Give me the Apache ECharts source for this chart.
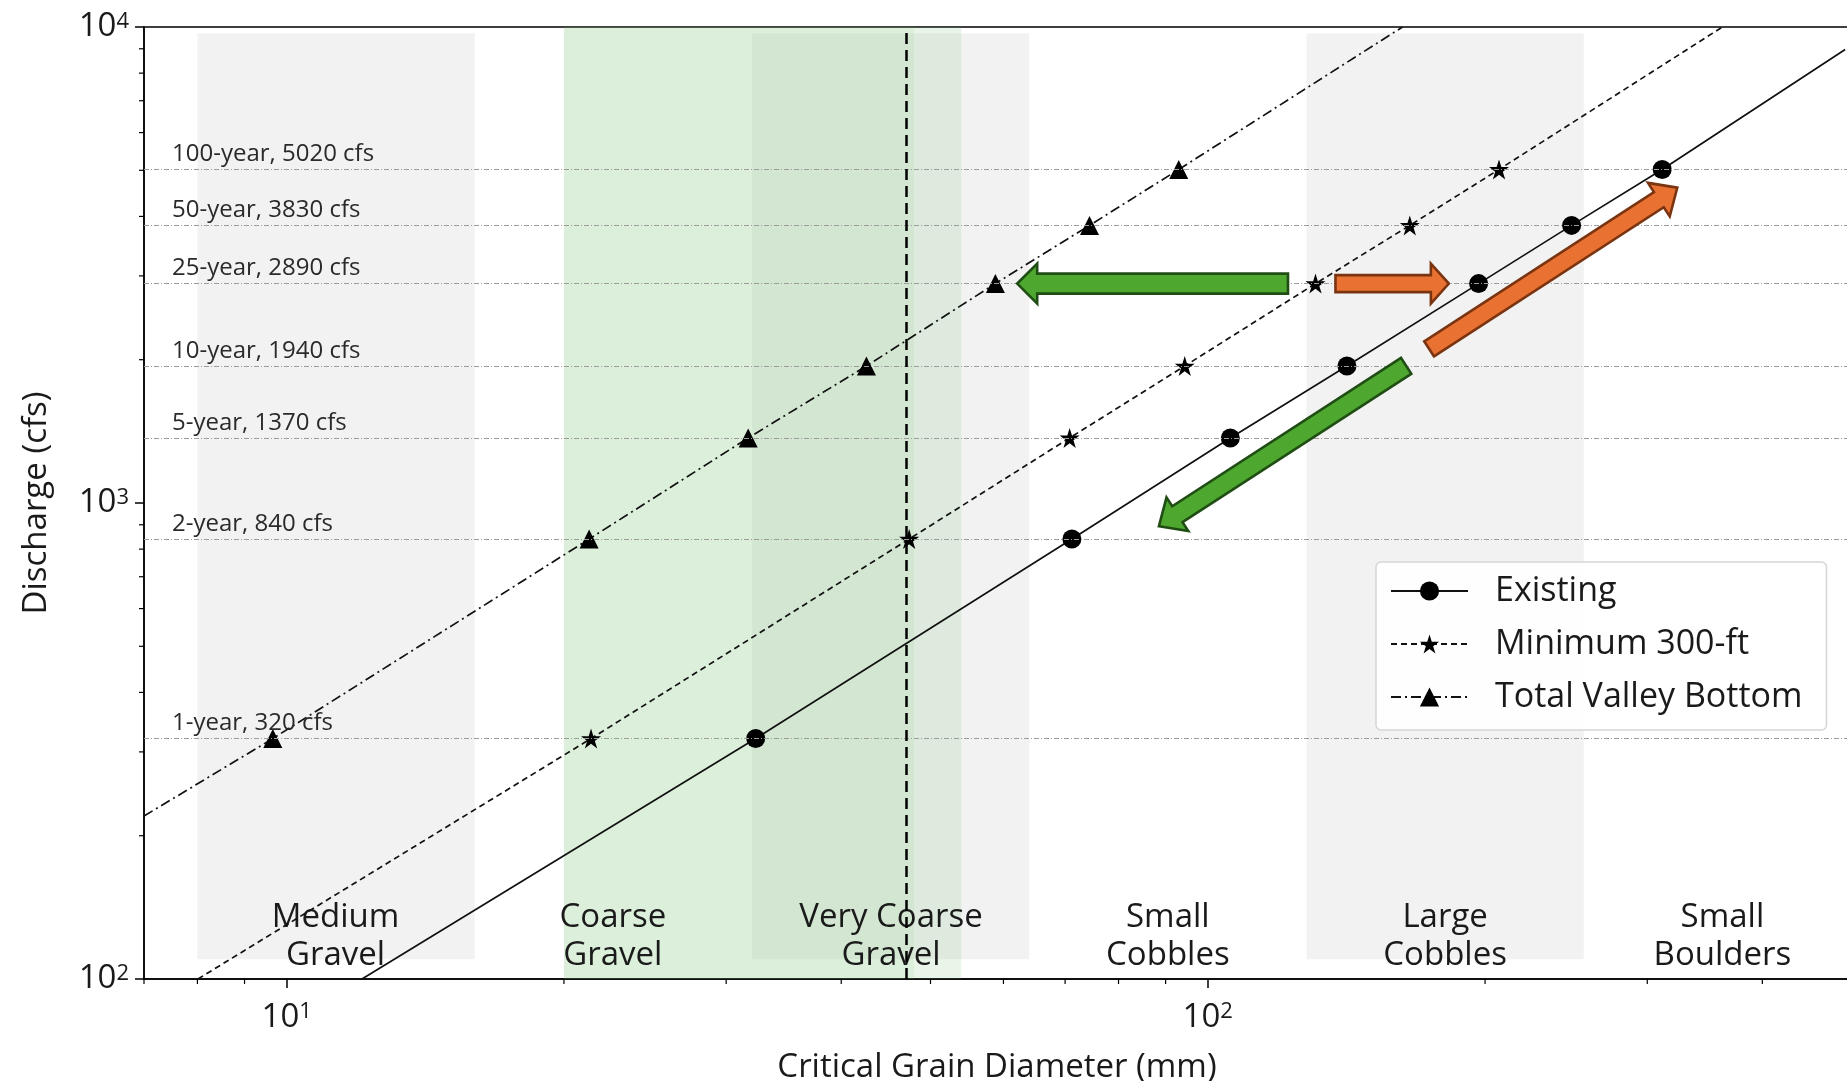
<!DOCTYPE html>
<html>
<head>
<meta charset="utf-8">
<script src="https://cdn.jsdelivr.net/npm/echarts@6/dist/echarts.min.js"></script>
<style>
html, body { margin: 0; padding: 0; background: #fff; }
#main { width: 1847px; height: 1081px; }
</style>
</head>
<body>
<div id="main"></div>
<script>
var dom = document.getElementById('main');
var myChart = echarts.init(dom);

var FONT = 'Open Sans';
var TXT = '#1a1a1a';

// flood events and their discharge (cfs)
var events = ['1-year', '2-year', '5-year', '10-year', '25-year', '50-year', '100-year'];
var discharge = [320, 840, 1370, 1940, 2890, 3830, 5020];

// critical grain diameter (mm) for each event
var existing = [32.3, 71.2, 105.8, 141.6, 196.8, 248.3, 311.4];
var minimum300 = [21.4, 47.4, 70.8, 94.4, 130.9, 165.7, 207.1];
var valleyBottom = [9.66, 21.3, 31.7, 42.6, 58.8, 74.4, 93.0];

// where the fitted lines leave the plot [mm, cfs]
var existingEnds = [[12.07, 100], [492, 8970]];
var minimumEnds = [[8.01, 100], [362, 10000]];
var valleyEnds = [[7.0, 220], [162.7, 10000]];

// grain size classes
var classNames = ['Medium\nGravel', 'Coarse\nGravel', 'Very Coarse\nGravel', 'Small\nCobbles', 'Large\nCobbles', 'Small\nBoulders'];
var classMid = [11.3, 22.6, 45.3, 90.5, 181, 362];
var grayBands = [[8, 16], [32, 64], [128, 256]];
var greenBands = [[20, 48, 0.24], [48, 54, 0.15]];
var designLine = 47;

// annotation arrows [from, to] in [mm, cfs]
var arrows = [
    { from: [122.2, 2890], to: [62.1, 2890], c: 'g', w: 10, hw: 20, hl: 20 },
    { from: [137.6, 2890], to: [182.7, 2890], c: 'o', w: 8.5, hw: 20, hl: 18 },
    { from: [173.9, 2108], to: [323.4, 4597], c: 'o', w: 9, hw: 20, hl: 22 },
    { from: [164.2, 1942], to: [88.5, 894], c: 'g', w: 9.5, hw: 20, hl: 22 }
];

var xMinor = [7, 8, 9, 20, 30, 40, 50, 60, 70, 80, 90, 200, 300, 400];
var yMinor = [200, 300, 400, 500, 600, 700, 800, 900, 2000, 3000, 4000, 5000, 6000, 7000, 8000, 9000];

var starPath = 'path://M50,0L61.2,34.6L97.6,34.5L68.1,55.9L79.4,90.5L50,69L20.6,90.5L31.9,55.9L2.4,34.5L38.8,34.6Z';

function buildLine(ds, ends) {
    var pts = [{ value: ends[0], symbol: 'none' }];
    for (var i = 0; i < ds.length; i++) {
        pts.push([ds[i], discharge[i]]);
    }
    pts.push({ value: ends[1], symbol: 'none' });
    return pts;
}

function powLabel(v) {
    var n = Math.round(Math.log(v) / Math.LN10);
    return '{b|10}{s|' + n + '}';
}
var powRich = {
    b: { fontSize: 33, fontFamily: FONT, color: TXT },
    s: { fontSize: 22, fontFamily: FONT, color: TXT, verticalAlign: 'top' }
};

var bandAreas = [];
grayBands.forEach(function (b) {
    bandAreas.push([{ xAxis: b[0], yAxis: 9700, itemStyle: { color: 'rgba(0,0,0,0.05)' } },
                    { xAxis: b[1], yAxis: 110 }]);
});
greenBands.forEach(function (b) {
    bandAreas.push([{ xAxis: b[0], yAxis: 10000, itemStyle: { color: 'rgba(110,190,100,' + b[2] + ')' } },
                    { xAxis: b[1], yAxis: 100 }]);
});

var levelLines = discharge.map(function (q, i) {
    return { yAxis: q, label: { formatter: events[i] + ', ' + q + ' cfs' } };
});
levelLines.push({
    xAxis: designLine,
    lineStyle: { color: '#000', width: 2.5, type: [11, 6] },
    label: { show: false }
});

var option = {
    animation: false,
    grid: {
        left: 144, right: -3, top: 27, bottom: 102,
        outerBoundsMode: 'none', containLabel: false,
        show: true, borderColor: '#000', borderWidth: 1.5
    },
    xAxis: {
        type: 'log', logBase: 10, min: 7, max: 498,
        name: 'Critical Grain Diameter (mm)', nameLocation: 'middle', nameGap: 72,
        nameTextStyle: { fontSize: 33, fontFamily: FONT, color: TXT },
        axisLine: { show: true, lineStyle: { color: '#000', width: 1.5 } },
        axisTick: { show: true, length: 9, lineStyle: { color: '#000', width: 1.5 } },
        axisLabel: { formatter: powLabel, rich: powRich, margin: 22, showMinLabel: false, showMaxLabel: false },
        splitLine: { show: false }
    },
    yAxis: {
        type: 'log', logBase: 10, min: 100, max: 10000,
        name: 'Discharge (cfs)', nameLocation: 'middle', nameGap: 91,
        nameTextStyle: { fontSize: 33, fontFamily: FONT, color: TXT },
        axisLine: { show: true, lineStyle: { color: '#000', width: 1.5 } },
        axisTick: { show: true, length: 9, lineStyle: { color: '#000', width: 1.5 } },
        axisLabel: { formatter: powLabel, rich: powRich, margin: 15 },
        splitLine: { show: false }
    },
    legend: {
        data: ['Existing', 'Minimum 300-ft', 'Total Valley Bottom'],
        orient: 'vertical', left: 1376, top: 562,
        padding: [12, 24, 16, 14],
        itemWidth: 77, itemHeight: 24, itemGap: 19,
        backgroundColor: 'rgba(255,255,255,0.85)',
        borderColor: '#d6d6d6', borderWidth: 1.5, borderRadius: 5,
        textStyle: { fontSize: 34, fontFamily: FONT, color: TXT, padding: [0, 0, 0, 22] }
    },
    series: [
        {
            name: 'bands', type: 'line', data: [], silent: true, z: 1,
            markArea: { silent: true, data: bandAreas }
        },
        {
            name: 'levels', type: 'line', data: [], silent: true, z: 2,
            markLine: {
                silent: true, symbol: ['none', 'none'],
                lineStyle: { color: '#9c9c9c', width: 1.2, type: [5, 2, 1, 2] },
                label: {
                    show: true, position: 'insideStartTop', distance: [28, 3],
                    fontSize: 24, fontFamily: FONT, color: '#2a2a2a'
                },
                data: levelLines
            }
        },
        {
            name: 'Existing', type: 'line', z: 4,
            data: buildLine(existing, existingEnds),
            symbol: 'circle', symbolSize: 19,
            lineStyle: { color: '#111', width: 1.7, type: 'solid' },
            itemStyle: { color: '#000' }
        },
        {
            name: 'Minimum 300-ft', type: 'line', z: 4,
            data: buildLine(minimum300, minimumEnds),
            symbol: starPath, symbolSize: 20,
            lineStyle: { color: '#111', width: 1.7, type: [6, 4] },
            itemStyle: { color: '#000' }
        },
        {
            name: 'Total Valley Bottom', type: 'line', z: 4,
            data: buildLine(valleyBottom, valleyEnds),
            symbol: 'triangle', symbolSize: 19,
            lineStyle: { color: '#111', width: 1.7, type: [10, 4, 2, 4] },
            itemStyle: { color: '#000' }
        },
        {
            name: 'classes', type: 'scatter', silent: true, z: 3,
            symbolSize: 1,
            itemStyle: { opacity: 0 },
            data: classMid.map(function (x, i) { return { value: [x, 122.5], name: classNames[i] }; }),
            label: {
                show: true, position: 'inside', formatter: '{b}',
                fontSize: 33, lineHeight: 38, fontFamily: FONT, color: TXT, align: 'center',
                textBorderWidth: 0, opacity: 1
            }
        }
    ]
};

if (option && typeof option === 'object') {
    myChart.setOption(option, true);
}

// minor ticks and arrows, placed through the axes
function px(x, y) {
    return myChart.convertToPixel({ gridIndex: 0 }, [x, y]);
}

function arrowPoints(a) {
    var p0 = px(a.from[0], a.from[1]);
    var p1 = px(a.to[0], a.to[1]);
    var dx = p1[0] - p0[0], dy = p1[1] - p0[1];
    var len = Math.sqrt(dx * dx + dy * dy);
    var ux = dx / len, uy = dy / len;
    var nx = -uy, ny = ux;
    var bx = p1[0] - ux * a.hl, by = p1[1] - uy * a.hl;
    return [
        [p0[0] + nx * a.w, p0[1] + ny * a.w],
        [bx + nx * a.w, by + ny * a.w],
        [bx + nx * a.hw, by + ny * a.hw],
        [p1[0], p1[1]],
        [bx - nx * a.hw, by - ny * a.hw],
        [bx - nx * a.w, by - ny * a.w],
        [p0[0] - nx * a.w, p0[1] - ny * a.w]
    ];
}

var elements = [];
var corner = px(7, 100);
xMinor.forEach(function (v) {
    var p = px(v, 100);
    elements.push({ type: 'line', shape: { x1: p[0], y1: corner[1], x2: p[0], y2: corner[1] + 5 },
                    style: { stroke: '#000', lineWidth: 1.2 }, silent: true });
});
yMinor.forEach(function (v) {
    var p = px(7, v);
    elements.push({ type: 'line', shape: { x1: corner[0] - 5, y1: p[1], x2: corner[0], y2: p[1] },
                    style: { stroke: '#000', lineWidth: 1.2 }, silent: true });
});
arrows.forEach(function (a) {
    var green = a.c === 'g';
    elements.push({
        type: 'polygon', z: 100, silent: true,
        shape: { points: arrowPoints(a) },
        style: {
            fill: green ? '#4ea72e' : '#e97132',
            stroke: green ? '#1f4d14' : '#7a3410',
            lineWidth: 2.6, lineJoin: 'miter'
        }
    });
});

myChart.setOption({ graphic: { elements: elements } });
</script>
</body>
</html>
